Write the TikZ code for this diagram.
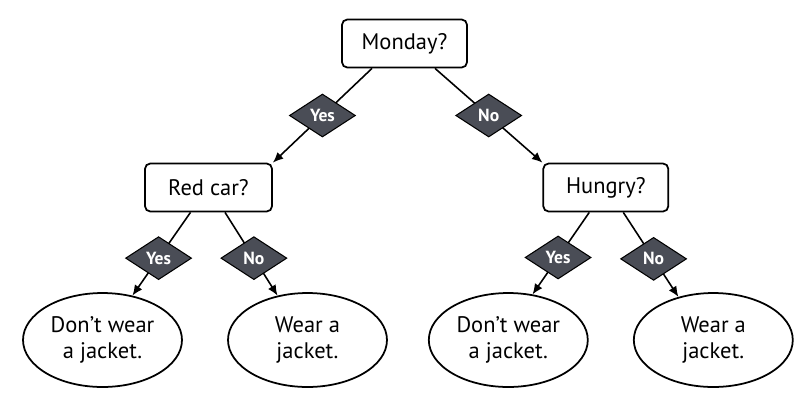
\documentclass[tikz,border=0pt]{standalone}
\usepackage{fontspec}
\setmainfont{PT Sans}
\usetikzlibrary{shapes.geometric,arrows.meta}
\definecolor{choicegrey}{RGB}{74,77,86}
\tikzset{
  question/.style={draw, rounded corners=3pt, line width=1pt, fill=white,
    minimum height=0.96cm, font=\fontsize{12.8}{15}\selectfont},
  leaf/.style={draw, ellipse, line width=1pt, minimum width=3.18cm,
    minimum height=1.88cm, inner sep=0pt, align=center,
    font=\fontsize{12.8}{14.5}\selectfont},
  choice/.style={diamond, draw=black, line width=0.6pt, fill=choicegrey,
    text=white, font=\fontsize{10}{11}\selectfont\bfseries, inner sep=0pt,
    minimum width=1.32cm, minimum height=0.86cm},
  edge/.style={line width=0.9pt, -{Latex[length=2.1mm,width=1.8mm]}}
}
\begin{document}
\begin{tikzpicture}[x=0.02cm, y=-0.02cm]
       \useasboundingbox (0,0) rectangle (812,407);

       \node[question, minimum width=2.5cm] (monday) at (404.5,43.5) {Monday?};
       \node[question, minimum width=2.54cm] (redcar) at (208.5,187.5) {Red car?};
       \node[question, minimum width=2.5cm] (hungry) at (605.8,187.5) {Hungry?};

       \node[leaf] (leafA) at (102.5,340) {Don’t wear\\a jacket.};
       \node[leaf] (leafB) at (307.5,340) {Wear a\\jacket.};
       \node[leaf] (leafC) at (508.3,340) {Don’t wear\\a jacket.};
       \node[leaf] (leafD) at (713.3,340) {Wear a\\jacket.};

       \draw[edge] ([xshift=-0.65cm]monday.south) -- node[choice, pos=0.5] (Y1) {Yes} (redcar.north east);
       \draw[edge] ([xshift=0.61cm]monday.south) -- node[choice, pos=0.5] (N1) {No} (hungry.north west);

       \draw[edge] ([xshift=-0.36cm]redcar.south) -- node[choice, pos=0.55] (Y2) {Yes} (leafA.56);
       \draw[edge] ([xshift=0.33cm]redcar.south) -- node[choice, pos=0.55] (N2) {No} (leafB.124);

       \draw[edge] ([xshift=-0.33cm]hungry.south) -- node[choice, pos=0.55] (Y3) {Yes} (leafC.62);
       \draw[edge] ([xshift=0.35cm]hungry.south) -- node[choice, pos=0.55] (N3) {No} (leafD.129);
\end{tikzpicture}
\end{document}
